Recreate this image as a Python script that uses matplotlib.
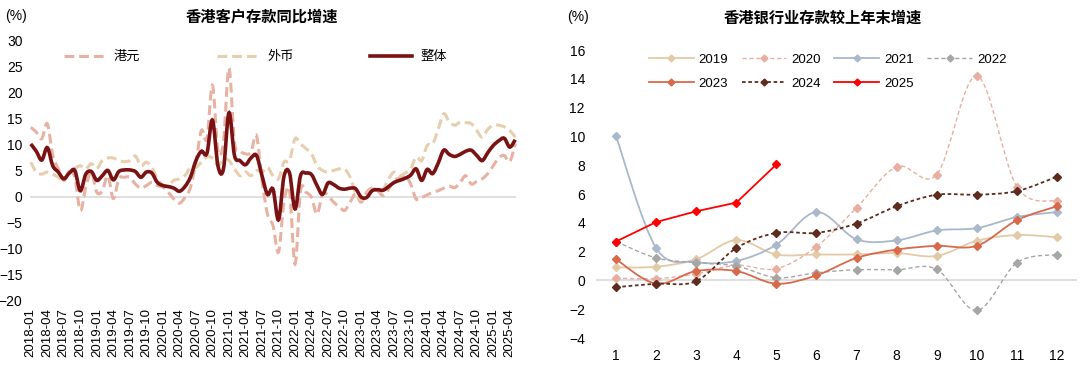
import numpy as np
import matplotlib
matplotlib.use("Agg")
import matplotlib.pyplot as plt
from matplotlib.path import Path
from matplotlib.patches import PathPatch
from matplotlib.lines import Line2D

plt.rcParams['font.family'] = ['Liberation Sans', 'Noto Sans CJK SC', 'DejaVu Sans']

# ---- left chart: monthly yoy growth, 2018-01 .. 2025-05
months = ["%d-%02d" % (2018 + k // 12, k % 12 + 1) for k in range(89)]

hkd = [13.4, 12.5, 11.2, 14.1, 8.0, 5.4, 3.2, 4.8, 3.8, -2.6,
       1.9, 4.8, 0.9, 1.2, 4.1, -0.3, 3.5, 3.8, 3.8, 2.5,
       1.7, 2.2, 2.8, 2.2, 1.9, 0.9, -0.4, -1.2, -0.1, 1.8,
       6.7, 12.8, 11.2, 21.5, 8.9, 10.6, 24.8, 10.6, 8.9, 8.3,
       8.6, 11.8, 3.2, -3.3, -5.5, -10.6, -1.0, 1.2, -12.9, 1.2,
       0.9, -0.1, -3.3, 0.6, 0.3, -1.0, -1.8, -2.6, -1.0, 0.6,
       -1.0, 0.9, 1.7, 1.2, 0.3, 1.5, 3.2, 3.6, 4.1, 2.5,
       -0.4, -0.1, 0.4, 0.9, 1.2, 1.7, 2.1, 1.8, 2.8, 4.1,
       2.5, 3.0, 3.5, 4.5, 6.0, 7.5, 8.0, 6.8, 10.3]

fx = [6.7, 4.8, 4.4, 4.8, 4.4, 3.8, 3.2, 5.1, 5.5, 6.0,
      5.4, 6.4, 5.5, 7.0, 7.5, 7.5, 7.0, 6.8, 7.0, 7.9,
      6.0, 6.7, 5.7, 3.5, 2.3, 2.3, 3.2, 3.5, 4.1, 5.7,
      5.7, 6.7, 7.7, 7.5, 6.0, 7.3, 7.0, 5.4, 4.1, 4.8,
      4.1, 5.1, 4.8, 5.7, 4.1, 3.5, 6.7, 7.0, 11.2, 10.2,
      9.3, 8.3, 6.0, 5.1, 4.8, 5.1, 5.4, 5.4, 3.8, 0.9,
      -0.5, 0.5, 1.5, 1.5, 1.5, 3.5, 4.8, 4.1, 4.6, 5.4,
      7.7, 7.0, 9.9, 10.2, 13.0, 16.0, 14.5, 13.8, 14.4, 14.3,
      14.1, 12.8, 11.5, 13.0, 13.8, 13.8, 13.5, 12.8, 11.5]

total = [10.2, 8.8, 7.1, 9.5, 6.0, 4.8, 3.5, 4.6, 5.1, 1.2,
         4.4, 4.9, 3.2, 4.1, 5.1, 3.3, 4.9, 5.2, 5.2, 4.9,
         3.8, 4.8, 4.6, 2.8, 2.2, 2.0, 1.7, 1.1, 2.0, 3.8,
         7.0, 8.8, 8.4, 14.8, 6.0, 5.4, 16.2, 8.0, 7.0, 6.2,
         7.5, 8.0, 4.1, 0.5, 1.5, -4.4, 4.0, 4.6, -2.3, 4.1,
         4.6, 4.3, 2.2, 0.5, 2.7, 2.4, 1.7, 1.5, 1.7, 1.6,
         0.0, -0.1, 1.2, 1.4, 1.3, 2.0, 2.8, 3.2, 3.6, 4.2,
         5.4, 3.2, 5.3, 4.5, 6.5, 9.0, 8.2, 7.8, 8.2, 8.8,
         9.0, 8.0, 7.0, 8.5, 9.9, 10.8, 11.3, 9.6, 11.0]

# ---- right chart: growth vs previous year end, by month
month_no = list(range(1, 13))
y2019 = [0.9, 0.95, 1.47, 2.8, 1.8, 1.8, 1.8, 1.9, 1.7, 2.75, 3.15, 3.0]
y2020 = [0.16, 0.12, 0.45, 1.05, 0.81, 2.35, 5.05, 7.9, 7.35, 14.2, 6.5, 5.5]
y2021 = [10.0, 2.25, 1.28, 1.35, 2.48, 4.75, 2.85, 2.78, 3.47, 3.63, 4.4, 4.75]
y2022 = [2.7, 1.56, 1.23, 1.0, 0.19, 0.53, 0.74, 0.74, 0.77, -2.09, 1.23, 1.79]
y2023 = [1.47, -0.23, 0.65, 0.65, -0.23, 0.35, 1.56, 2.14, 2.4, 2.4, 4.18, 5.15]
y2024 = [-0.47, -0.23, -0.05, 2.25, 3.3, 3.3, 3.95, 5.15, 5.95, 5.95, 6.2, 7.2]
y2025 = [2.7, 4.05, 4.8, 5.4, 8.05]


def smooth_path(x, y):
    # excel style smoothed line, catmull-rom segments as cubic beziers
    pts = np.column_stack([x, y]).astype(float)
    n = len(pts)
    verts = [pts[0]]
    codes = [Path.MOVETO]
    for k in range(n - 1):
        p0 = pts[k - 1] if k > 0 else pts[k]
        p1 = pts[k]
        p2 = pts[k + 1]
        p3 = pts[k + 2] if k + 2 < n else pts[k + 1]
        verts += [p1 + (p2 - p0) / 6.0, p2 - (p3 - p1) / 6.0, p2]
        codes += [Path.CURVE4] * 3
    return Path(verts, codes)


fig = plt.figure(figsize=(10.8, 3.66), dpi=100)

# ================= left
ax1 = fig.add_axes([28 / 1080, 1 - 301 / 366, 490 / 1080, 260 / 366])
xi = np.arange(len(months))
left_series = [
    ("港元", hkd, "#e8b2a3", 2.2, (0, (3.2, 1.6))),
    ("外币", fx, "#e6cfae", 2.2, (0, (3.2, 1.6))),
    ("整体", total, "#7a1214", 2.6, "-"),
]
handles = []
for name, vals, col, lw, ls in left_series:
    ax1.add_patch(PathPatch(smooth_path(xi, vals), fill=False, edgecolor=col,
                            lw=lw, linestyle=ls, capstyle="butt", zorder=3))
    handles.append(Line2D([], [], color=col, lw=lw, linestyle=ls, label=name))
ax1.plot([0, len(months) - 1], [0, 0], color="#d9d9d9", lw=1.2, zorder=1)
ax1.set_xlim(-0.5, len(months) - 0.5)
ax1.set_ylim(-20, 30)
ax1.set_yticks(range(-20, 31, 5))
ax1.set_xticks(xi[::3])
ax1.set_xticklabels(months[::3], rotation=90, fontsize=9.5)
ax1.tick_params(axis="y", labelsize=10, length=0, pad=4)
ax1.tick_params(axis="x", length=0, pad=5)
for s in ax1.spines.values():
    s.set_visible(False)
ax1.legend(handles=handles, ncol=3, loc="center", bbox_to_anchor=(0.464, 0.938),
           frameon=False, fontsize=9.5, handlelength=3.2, handletextpad=0.6,
           columnspacing=5.8)
fig.text(262 / 1080, 1 - 17 / 366, "香港客户存款同比增速", ha="center", va="center",
         fontsize=11, fontweight="bold")
fig.text(16 / 1080, 1 - 16 / 366, "(%)", ha="center", va="center", fontsize=10)

# ================= right
ax2 = fig.add_axes([596 / 1080, 1 - 338 / 366, 481 / 1080, 288 / 366])
right_series = [
    ("2019", y2019, "#e3caa6", 1.3, "-", True),
    ("2020", y2020, "#e8ae9f", 1.0, (0, (3, 2)), True),
    ("2021", y2021, "#aab8cc", 1.3, "-", True),
    ("2022", y2022, "#a6a6a6", 1.0, (0, (3, 2)), True),
    ("2023", y2023, "#d86a4b", 1.3, "-", True),
    ("2024", y2024, "#5e2b1e", 1.3, (0, (2, 1.5)), True),
    ("2025", y2025, "#ff0000", 1.3, "-", False),
]
handles2 = {}
for name, vals, col, lw, ls, smooth in right_series:
    xs = month_no[:len(vals)]
    if smooth:
        ax2.add_patch(PathPatch(smooth_path(xs, vals), fill=False, edgecolor=col,
                                lw=lw, linestyle=ls, zorder=3))
        ax2.plot(xs, vals, linestyle="none", marker="D", ms=4.5, color=col, zorder=4)
    else:
        ax2.plot(xs, vals, linestyle=ls, lw=lw, marker="D", ms=4.5, color=col, zorder=4)
    handles2[name] = Line2D([], [], color=col, lw=lw, linestyle=ls, marker="D",
                            ms=3.5, label=name)
ax2.axhline(0, color="#d9d9d9", lw=1.2, zorder=1)
ax2.set_xlim(0.5, 12.5)
ax2.set_ylim(-4, 16)
ax2.set_yticks(range(-4, 17, 2))
ax2.set_xticks(month_no)
ax2.tick_params(axis="both", labelsize=10, length=0)
ax2.tick_params(axis="y", pad=8)
ax2.tick_params(axis="x", pad=8)
for s in ax2.spines.values():
    s.set_visible(False)
# legend fills column-wise, so order it to read row by row
leg_order = ["2019", "2023", "2020", "2024", "2021", "2025", "2022"]
ax2.legend(handles=[handles2[k] for k in leg_order], ncol=4, loc="center",
           bbox_to_anchor=(0.482, 0.925), frameon=False, fontsize=9.5,
           handlelength=3.4, handletextpad=0.4, columnspacing=1.0, labelspacing=0.9)
fig.text(823 / 1080, 1 - 18 / 366, "香港银行业存款较上年末增速", ha="center", va="center",
         fontsize=11, fontweight="bold")
fig.text(578 / 1080, 1 - 17 / 366, "(%)", ha="center", va="center", fontsize=10)

fig.savefig("out.png", dpi=100)
